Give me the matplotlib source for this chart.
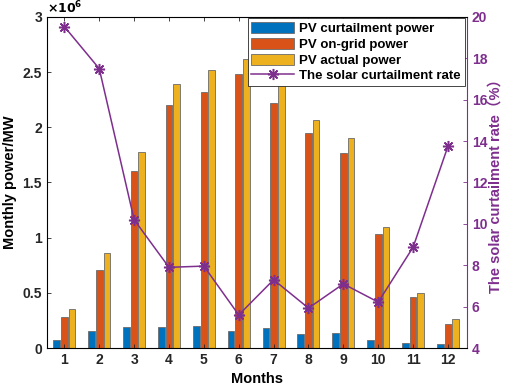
import matplotlib.pyplot as plt
import numpy as np

months = np.arange(1, 13)
curtailment = [0.07e6, 0.15e6, 0.19e6, 0.19e6, 0.20e6, 0.15e6, 0.18e6, 0.13e6, 0.14e6, 0.07e6, 0.05e6, 0.04e6]
on_grid = [0.28e6, 0.71e6, 1.60e6, 2.20e6, 2.32e6, 2.48e6, 2.22e6, 1.95e6, 1.77e6, 1.03e6, 0.46e6, 0.22e6]
actual = [0.35e6, 0.86e6, 1.78e6, 2.39e6, 2.52e6, 2.62e6, 2.39e6, 2.07e6, 1.90e6, 1.10e6, 0.50e6, 0.26e6]
rate = [19.53, 17.5, 10.2, 7.9, 7.96, 5.6, 7.3, 5.93, 7.1, 6.22, 8.87, 13.75]

BLUE = "#0072BD"
ORANGE = "#D95319"
YELLOW = "#EDB120"
PURPLE = "#7E2F8E"

plt.rcParams["font.family"] = ["Liberation Sans", "Noto Sans CJK SC", "DejaVu Sans"]
plt.rcParams["font.weight"] = "bold"
plt.rcParams["font.size"] = 10

fig = plt.figure(figsize=(5.05, 3.85), dpi=100)
ax = fig.add_axes([0.093, 0.096, 0.832, 0.860])

w = 0.19
off = 0.22
edge = dict(edgecolor="#6b6b6b", linewidth=0.6)
b1 = ax.bar(months - off, curtailment, w, color=BLUE, label="PV curtailment power", **edge)
b2 = ax.bar(months, on_grid, w, color=ORANGE, label="PV on-grid power", **edge)
b3 = ax.bar(months + off, actual, w, color=YELLOW, label="PV actual power", **edge)

ax.set_xlim(0.5, 12.55)
ax.set_ylim(0, 3e6)
ax.set_xticks(months)
ax.set_yticks(np.arange(0, 3.01e6, 0.5e6))
ax.set_yticklabels(["0", "0.5", "1", "1.5", "2", "2.5", "3"])
ax.text(0.0, 1.003, r"$\times10^6$", transform=ax.transAxes, ha="left", va="bottom", fontsize=9)
ax.set_xlabel("Months", fontweight="bold", fontsize=10.5)
ax.set_ylabel("Monthly power/MW", fontweight="bold", fontsize=10.5)
ax.tick_params(direction="in", top=True, length=3, width=0.6, colors="#262626")
for s in ax.spines.values():
    s.set_color("#262626")
    s.set_linewidth(0.6)

ax2 = ax.twinx()
ln, = ax2.plot(months, rate, color=PURPLE, marker=(8, 2, 0), markersize=8,
               markeredgewidth=1.1, linewidth=1.1, label="The solar curtailment rate")
ax2.set_ylim(4, 20)
ax2.set_yticks(np.arange(4, 21, 2))
ax2.tick_params(direction="in", length=3, width=0.6, colors=PURPLE)
ax2.spines["right"].set_color(PURPLE)
ax2.set_ylabel("The solar curtailment rate（%）", color=PURPLE, fontweight="bold",
               fontsize=10.5, labelpad=1)

leg = ax2.legend(handles=[b1, b2, b3, ln], loc="upper right", bbox_to_anchor=(0.997, 1.0),
                 fancybox=False, edgecolor="#262626", fontsize=9.5, handlelength=3.2,
                 handleheight=0.9, borderaxespad=0.1, labelspacing=0.2, handletextpad=0.4,
                 borderpad=0.3, framealpha=1)
leg.get_frame().set_linewidth(0.6)

fig.savefig("out.png", dpi=100)
